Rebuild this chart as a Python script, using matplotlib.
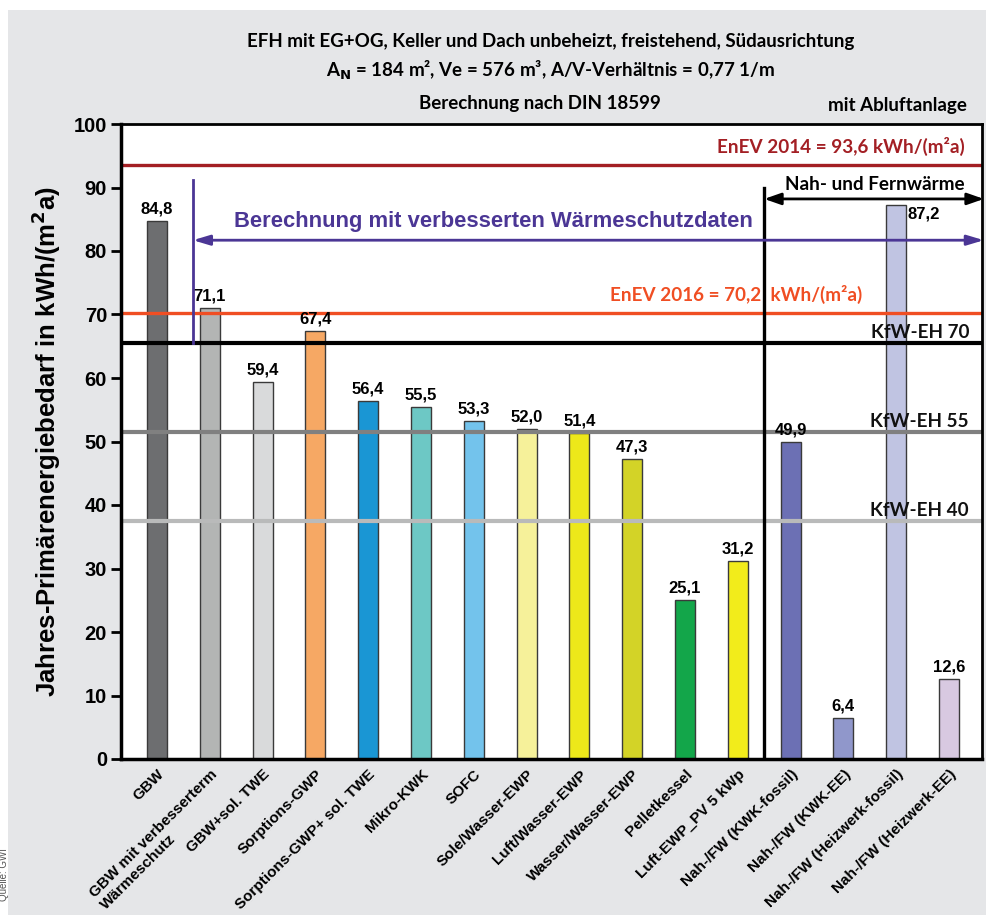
import matplotlib.pyplot as plt
from matplotlib.patches import Rectangle

# Primärenergiebedarf je Anlagenvariante
categories = ['GBW', 'GBW mit verbesserterm\nWärmeschutz', 'GBW+sol. TWE', 'Sorptions-GWP',
              'Sorptions-GWP+ sol. TWE', 'Mikro-KWK', 'SOFC', 'Sole/Wasser-EWP',
              'Luft/Wasser-EWP', 'Wasser/Wasser-EWP', 'Pelletkessel', 'Luft-EWP_PV 5 kWp',
              'Nah-/FW (KWK-fossil)', 'Nah-/FW (KWK-EE)', 'Nah-/FW (Heizwerk-fossil)',
              'Nah-/FW (Heizwerk-EE)']
values = [84.8, 71.1, 59.4, 67.4, 56.4, 55.5, 53.3, 52.0, 51.4, 47.3, 25.1, 31.2,
          49.9, 6.4, 87.2, 12.6]
colors = ['#6d6e70', '#b3b5b4', '#d9dadb', '#f6a864', '#1a96d4', '#6dc8c5', '#73c3ec',
          '#f6f19a', '#ede81a', '#d3d327', '#13a64a', '#f2ec1b', '#6c70b4', '#9097cb',
          '#c0c4e2', '#d8c9e1']

# Grenz- und Zielwerte
enev_values = [93.6, 70.2]
enev_labels = ['EnEV 2014 = 93,6 kWh/(m²a)', 'EnEV 2016 = 70,2  kWh/(m²a)']
enev_colors = ['#a31f24', '#f04e23']
kfw_values = [65.5, 51.5, 37.5]
kfw_labels = ['KfW-EH 70', 'KfW-EH 55', 'KfW-EH 40']
kfw_colors = ['#000000', '#808080', '#b9baba']

yticks = [0, 10, 20, 30, 40, 50, 60, 70, 80, 90, 100]

arial = ['Liberation Sans', 'DejaVu Sans']
calibri = ['Lato', 'DejaVu Sans']

fig = plt.figure(figsize=(9.87, 9.15), dpi=100)
fig.patch.set_facecolor('white')
fig.patches.append(Rectangle((8 / 987, 0), 1, 1 - 10 / 915, transform=fig.transFigure,
                             facecolor='#e5e6e8', edgecolor='none', zorder=-5))

ax = fig.add_axes([121 / 987, 156 / 915, 861 / 987, 635 / 915])
ax.set_facecolor('white')
x = list(range(len(values)))
ax.bar(x, values, width=0.38, color=colors, edgecolor='#3a3a3a', linewidth=1, zorder=2)

for xi, v in zip(x, values):
    label = f'{v:.1f}'.replace('.', ',')
    if xi == 14:
        ax.text(xi + 0.22, v - 0.2, label, ha='left', va='top', fontsize=12,
                fontweight='bold', family=arial, zorder=6)
    else:
        ax.text(xi, v + 0.7, label, ha='center', va='bottom', fontsize=12,
                fontweight='bold', family=arial, zorder=6)

ax.set_xlim(-0.682, 15.625)
ax.set_ylim(0, 100)

# EnEV Linien
for val, lab, col in zip(enev_values, enev_labels, enev_colors):
    ax.axhline(val, color=col, lw=2.4, zorder=4)
ax.text(15.3, 96.5, enev_labels[0], color=enev_colors[0], ha='right', va='center',
        fontsize=13.6, fontweight='bold', family=calibri, zorder=6)
ax.text(13.35, 73.1, enev_labels[1], color=enev_colors[1], ha='right', va='center',
        fontsize=13.6, fontweight='bold', family=calibri, zorder=6)

# KfW Linien
for val, lab, col in zip(kfw_values, kfw_labels, kfw_colors):
    ax.axhline(val, color=col, lw=3, zorder=4)
    ax.text(15.38, val + 1.6, lab, color='#111111', ha='right', va='center',
            fontsize=13.6, fontweight='bold', family=calibri, zorder=6)

# Nah- und Fernwärme
ax.plot([11.5, 11.5], [0, 89.9], color='black', lw=2.4, zorder=5)
ax.annotate('', xy=(11.5, 88.2), xytext=(15.66, 88.2), annotation_clip=False,
            arrowprops=dict(arrowstyle='<|-|>,head_length=1.0,head_width=0.35',
                            color='black', lw=2, shrinkA=0, shrinkB=0), zorder=6)
ax.text(13.6, 90.5, 'Nah- und Fernwärme', ha='center', va='center', fontsize=13.6,
        fontweight='bold', family=calibri, zorder=6)

# verbesserter Wärmeschutz
purple = '#4b3695'
ax.plot([0.68, 0.68], [65.5, 91.2], color=purple, lw=2, zorder=5)
ax.annotate('', xy=(0.68, 81.7), xytext=(15.66, 81.7), annotation_clip=False,
            arrowprops=dict(arrowstyle='<|-|>,head_length=1.0,head_width=0.3',
                            color=purple, lw=2, shrinkA=0, shrinkB=0), zorder=6)
ax.text(6.38, 84.6, 'Berechnung mit verbesserten Wärmeschutzdaten', color=purple,
        ha='center', va='center', fontsize=15.8, fontweight='bold', family=arial, zorder=6)

# Achsen
for side in ['left', 'bottom', 'right', 'top']:
    ax.spines[side].set_linewidth(2)
    ax.spines[side].set_zorder(7)
ax.spines['left'].set_linewidth(2.5)
ax.spines['bottom'].set_linewidth(2.5)
ax.set_yticks(yticks)
ax.set_yticklabels([str(t) for t in yticks], fontsize=14.5, fontweight='bold', family=arial)
ax.tick_params(axis='y', direction='out', length=7, width=2, pad=3)
ax.set_xticks(x)
ax.set_xticklabels(categories, rotation=45, ha='right', va='top', rotation_mode='anchor',
                   fontsize=11, fontweight='bold', family=arial, multialignment='left')
ax.tick_params(axis='x', length=0, pad=6)
ax.set_ylabel('Jahres-Primärenergiebedarf in kWh/(m$^\\mathbf{2}$a)', fontsize=18.5,
              fontweight='bold', family=arial, labelpad=8)

# Titel
fig.text(551 / 987, 1 - 42 / 915,
         'EFH mit EG+OG, Keller und Dach unbeheizt, freistehend, Südausrichtung',
         ha='center', va='center', fontsize=13.5, fontweight='bold', family=calibri)
fig.text(551 / 987, 1 - 70 / 915,
         'A$_\\mathbf{N}$ = 184 m², Ve = 576 m³, A/V-Verhältnis = 0,77 1/m',
         ha='center', va='center', fontsize=13.5, fontweight='bold', family=calibri)
fig.text(540 / 987, 1 - 103 / 915, 'Berechnung nach DIN 18599', ha='center', va='center',
         fontsize=13.5, fontweight='bold', family=calibri)
fig.text(967 / 987, 1 - 105 / 915, 'mit Abluftanlage', ha='right', va='center',
         fontsize=13.5, fontweight='bold', family=calibri)
fig.text(4 / 987, 1 - 848 / 915, 'Quelle: GWI', rotation=90, ha='center', va='top',
         fontsize=7, color='#555555', family=arial)

fig.savefig('out.png', dpi=100, facecolor=fig.get_facecolor())
